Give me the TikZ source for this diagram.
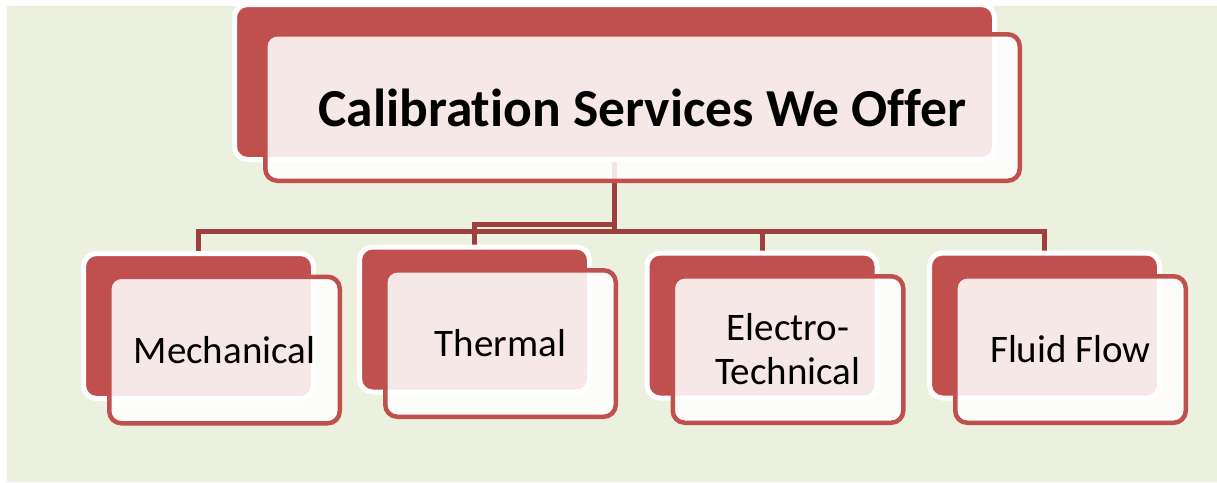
\documentclass[tikz,border=0pt]{standalone}
\usepackage{fontspec}
\setmainfont{Carlito}[Ligatures=NoCommon]
\definecolor{boxred}{HTML}{C0504D}
\definecolor{linkred}{HTML}{9E3F3D}
\definecolor{paper}{HTML}{EBF1DE}
\pgfdeclarelayer{bg}
\pgfdeclarelayer{links}
\pgfsetlayers{bg,links,main}

\begin{document}
\begin{tikzpicture}[
    x=1pt, y=-1pt,
    back box/.style={rectangle, rounded corners=13pt, fill=boxred, draw=white, line width=5pt},
    front box/.style={rectangle, rounded corners=12pt, fill=white, fill opacity=0.87, text opacity=1, draw=boxred, draw opacity=1, line width=4.5pt, align=center, font=\fontsize{39}{44}\selectfont},
    link/.style={draw=linkred, line width=5pt}
  ]
  \useasboundingbox (0,0) rectangle (1217,482);
  \begin{pgfonlayer}{bg}
    \fill[paper] (7,6) rectangle (1217,482);
  \end{pgfonlayer}

  % Top box
  \node[back box, minimum width=760pt, minimum height=155pt] (top-back) at (614.5,82) {};
  \node[front box, minimum width=754.5pt, minimum height=146.5pt, font=\bfseries\fontsize{53.5}{60}\selectfont] (top-front) at (642.5,107.5) {Calibration Services We Offer};

  % Service boxes
  \foreach \n/\x/\y/\lbl in {mech/198.5/326/Mechanical, therm/474.5/319.5/Thermal, elec/762/325.5/{Electro-\\Technical}, fluid/1044.5/325.5/Fluid Flow} {
    \node[back box, minimum width=230pt, minimum height=145pt] (\n-back) at (\x,\y) {};
    \node[front box, minimum width=230.5pt, minimum height=146.5pt] (\n-front) at (\x+26,\y+24) {\lbl};
  }

  % Connectors
  \begin{pgfonlayer}{links}
    \foreach \n/\d in {mech/69, therm/62, elec/69, fluid/69}
      \draw[link] (top-back.south) -- ++(0,\d) -| (\n-back.north);
  \end{pgfonlayer}
\end{tikzpicture}
\end{document}
